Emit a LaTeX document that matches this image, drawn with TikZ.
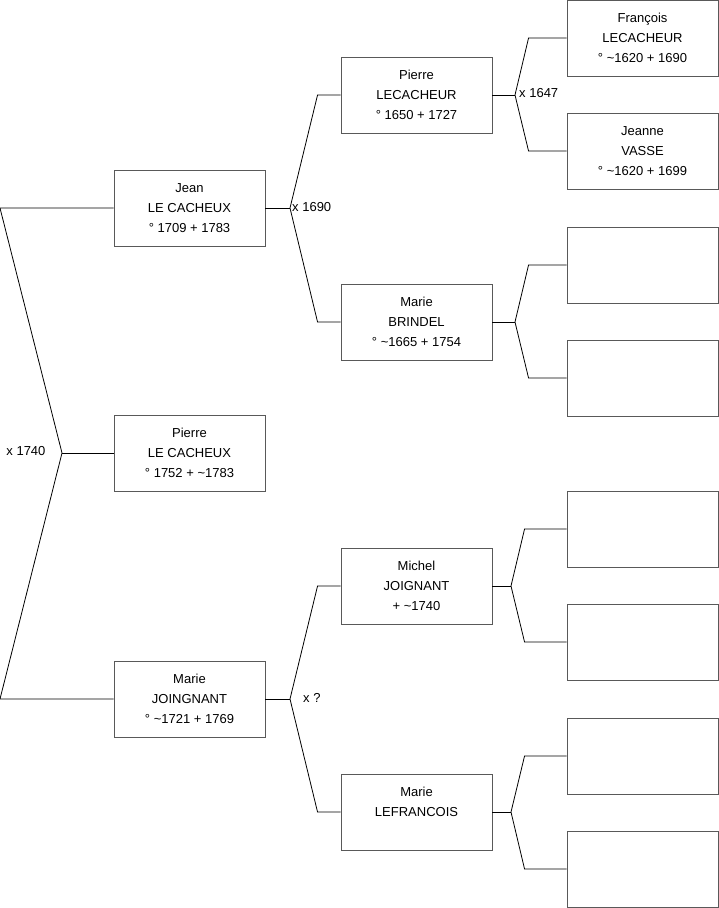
\documentclass[tikz,border=0pt]{standalone}
\usepackage{fontspec}
\setmainfont{Liberation Sans}
\usetikzlibrary{calc}

\begin{document}
\begin{tikzpicture}[x=1pt, y=-1pt,
    every node/.style={font=\fontsize{13}{20}\selectfont},
    person/.style={rectangle, draw=black!65, line width=0.9pt, minimum width=151pt, minimum height=76pt, align=center, inner sep=0pt},
    link/.style={draw=black, line width=0.8pt},
    union/.style={anchor=west, inner sep=1pt}
  ]
  \useasboundingbox (0,0) rectangle (719,908);

  % generation 1 and 2
  \node[person] (jean) at (189.5,208) {Jean\\LE CACHEUX\\° 1709 + 1783};
  \node[person] (pierre) at (189.5,453) {Pierre\\LE CACHEUX\\° 1752 + \textasciitilde1783};
  \node[person] (marie) at (189.5,699) {Marie\\JOINGNANT\\° \textasciitilde1721 + 1769};

  % generation 3
  \node[person] (plc) at (416.5,95) {Pierre\\LECACHEUR\\° 1650 + 1727};
  \node[person] (mbr) at (416.5,322) {Marie\\BRINDEL\\° \textasciitilde1665 + 1754};
  \node[person] (mjo) at (416.5,586) {Michel\\JOIGNANT\\+ \textasciitilde1740};
  \node[person] (mlf) at (416.5,812) {Marie\\LEFRANCOIS\\\mbox{}};

  % generation 4
  \node[person] (flc) at (642.5,38) {François\\LECACHEUR\\° \textasciitilde1620 + 1690};
  \node[person] (jva) at (642.5,151) {Jeanne\\VASSE\\° \textasciitilde1620 + 1699};
  \foreach \n/\y in {a/265, b/378, c/529, d/642, e/756, f/869}
    \node[person] (x\n) at (642.5,\y) {};

  % forks
  \coordinate (f0) at (62,453);
  \coordinate (f0a) at (0,208);
  \coordinate (f0b) at (0,699);
  \draw[link] (jean.west) -- (f0a) -- (f0) -- (f0b) -- (marie.west);
  \draw[link] (f0) -- (pierre.west);
  \node[anchor=east] (u0) at (49,451) {x 1740};

  \coordinate (f1) at (290,208);
  \draw[link] (jean.east) -- (f1);
  \draw[link] (plc.west) -- ++(-23,0) -- (f1) -- ($(mbr.west)+(-23,0)$) -- (mbr.west);
  \node[union] (u1) at (291,207) {x 1690};

  \coordinate (f2) at (290,699);
  \draw[link] (marie.east) -- (f2);
  \draw[link] (mjo.west) -- ++(-23,0) -- (f2) -- ($(mlf.west)+(-23,0)$) -- (mlf.west);
  \node[union] (u2) at (302,698) {x ?};

  \coordinate (f3) at (515,95);
  \draw[link] (plc.east) -- (f3);
  \draw[link] (flc.west) -- ++(-38,0) -- (f3) -- ($(jva.west)+(-38,0)$) -- (jva.west);
  \node[union] (u3) at (518,93) {x 1647};

  \coordinate (f4) at (515,322);
  \draw[link] (mbr.east) -- (f4);
  \draw[link] (xa.west) -- ++(-38,0) -- (f4) -- ($(xb.west)+(-38,0)$) -- (xb.west);

  \coordinate (f5) at (511,586);
  \draw[link] (mjo.east) -- (f5);
  \draw[link] (xc.west) -- ++(-42,0) -- (f5) -- ($(xd.west)+(-42,0)$) -- (xd.west);

  \coordinate (f6) at (511,812);
  \draw[link] (mlf.east) -- (f6);
  \draw[link] (xe.west) -- ++(-42,0) -- (f6) -- ($(xf.west)+(-42,0)$) -- (xf.west);
\end{tikzpicture}
\end{document}
